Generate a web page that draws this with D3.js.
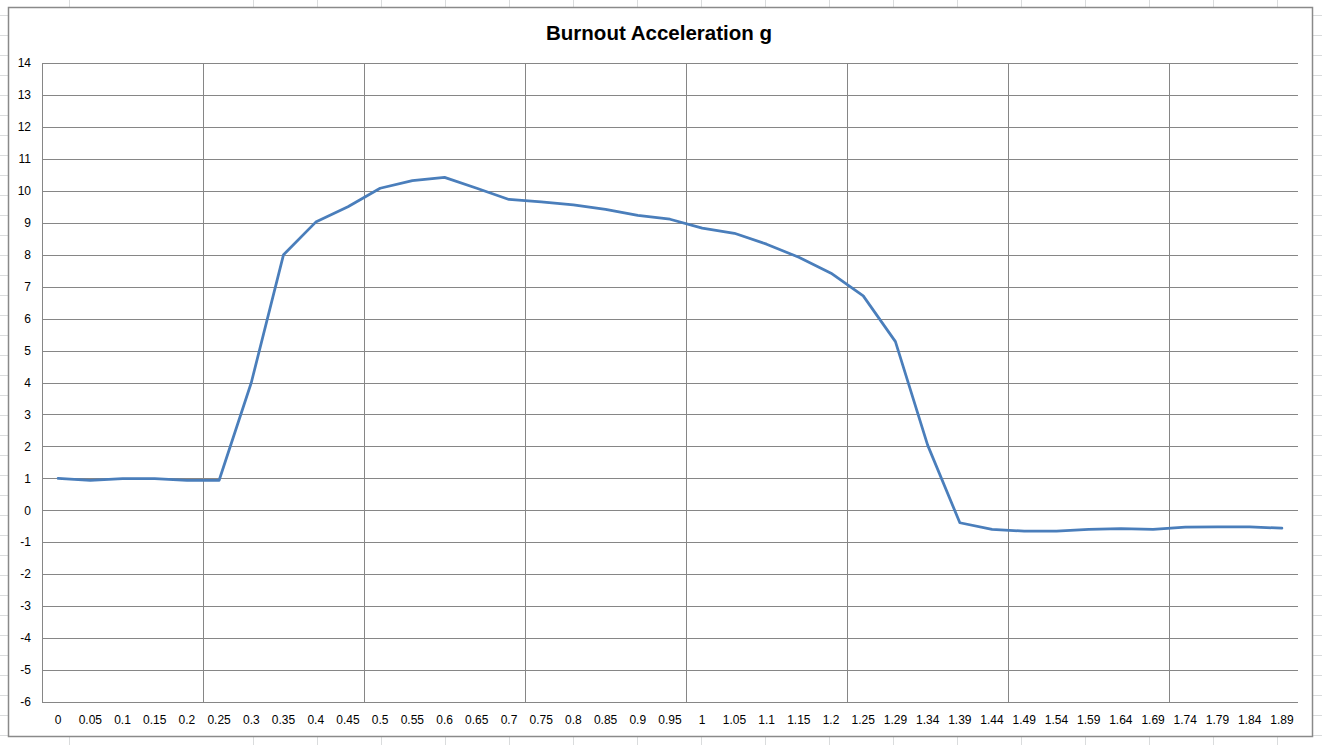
<!DOCTYPE html>
<html>
<head>
<meta charset="utf-8">
<script src="https://cdn.jsdelivr.net/npm/d3@7"></script>
<style>
  html, body { margin: 0; padding: 0; background: #fff; }
  svg { display: block; }
</style>
</head>
<body>
<svg id="chart" width="1322" height="745"></svg>
<script>
const title = "Burnout Acceleration g";
const categories = ["0","0.05","0.1","0.15","0.2","0.25","0.3","0.35","0.4","0.45","0.5","0.55","0.6","0.65","0.7","0.75","0.8","0.85","0.9","0.95","1","1.05","1.1","1.15","1.2","1.25","1.29","1.34","1.39","1.44","1.49","1.54","1.59","1.64","1.69","1.74","1.79","1.84","1.89"];
const accelG = [1.0,0.94,0.99,0.99,0.94,0.94,4.0,8.0,9.02,9.5,10.08,10.32,10.42,10.08,9.73,9.65,9.56,9.42,9.23,9.11,8.83,8.67,8.33,7.92,7.42,6.71,5.28,2.04,-0.39,-0.6,-0.65,-0.65,-0.6,-0.57,-0.6,-0.53,-0.52,-0.52,-0.56];
const yTicks = d3.range(-6, 15, 1);
const gridEvery = 5;

const W = 1322, H = 745;
const svg = d3.select("#chart");

// spreadsheet background grid
const sheet = svg.append("g");
const colLines = [69].concat(d3.range(253, W + 1, 64));
sheet.selectAll("line.c").data(colLines).join("line")
  .attr("x1", d => d + 0.5).attr("x2", d => d + 0.5)
  .attr("y1", 0).attr("y2", H)
  .attr("stroke", "#dadcdd").attr("stroke-width", 1);
sheet.selectAll("line.r").data(d3.range(15, H, 20)).join("line")
  .attr("x1", 0).attr("x2", W)
  .attr("y1", d => d + 0.5).attr("y2", d => d + 0.5)
  .attr("stroke", "#dadcdd").attr("stroke-width", 1);

// chart area box
svg.append("rect")
  .attr("x", 8.5).attr("y", 7.5).attr("width", 1304).attr("height", 729)
  .attr("fill", "#fff").attr("stroke", "#8a8a8a").attr("stroke-width", 1.5);

const plot = { left: 42, right: 1298, top: 63, bottom: 702 };

const x = d3.scaleBand().domain(categories).range([plot.left, plot.right]).padding(0);
const y = d3.scaleLinear().domain([-6, 14]).range([plot.bottom, plot.top]);

const grid = svg.append("g");
grid.selectAll("line.h").data(yTicks).join("line")
  .attr("x1", plot.left).attr("x2", plot.right)
  .attr("y1", d => Math.round(y(d)) + 0.5).attr("y2", d => Math.round(y(d)) + 0.5)
  .attr("stroke", "#868686").attr("stroke-width", 1);
const vIdx = d3.range(gridEvery, categories.length, gridEvery);
grid.selectAll("line.v").data(vIdx).join("line")
  .attr("x1", i => Math.round(x(categories[i])) + 0.5).attr("x2", i => Math.round(x(categories[i])) + 0.5)
  .attr("y1", plot.top).attr("y2", plot.bottom)
  .attr("stroke", "#868686").attr("stroke-width", 1);
grid.append("line")
  .attr("x1", plot.left + 0.5).attr("x2", plot.left + 0.5)
  .attr("y1", plot.top).attr("y2", plot.bottom)
  .attr("stroke", "#868686").attr("stroke-width", 1);

const font = "'Liberation Sans', Arial, sans-serif";
svg.append("g").selectAll("text").data(yTicks).join("text")
  .attr("x", 31).attr("y", d => y(d))
  .attr("dy", "0.35em").attr("text-anchor", "end")
  .attr("font-family", font).attr("font-size", 12).attr("fill", "#000")
  .text(d => d);

svg.append("g").selectAll("text").data(categories).join("text")
  .attr("x", d => x(d) + x.bandwidth() / 2).attr("y", 720)
  .attr("dy", "0.35em").attr("text-anchor", "middle")
  .attr("font-family", font).attr("font-size", 12).attr("fill", "#000")
  .text(d => d);

svg.append("text")
  .attr("x", 659).attr("y", 33).attr("dy", "0.35em")
  .attr("text-anchor", "middle")
  .attr("font-family", font).attr("font-weight", "bold")
  .attr("font-size", 20.5).attr("fill", "#000")
  .text(title);

const line = d3.line()
  .x((d, i) => x(categories[i]) + x.bandwidth() / 2)
  .y(d => y(d));
svg.append("path")
  .datum(accelG)
  .attr("d", line)
  .attr("fill", "none")
  .attr("stroke", "#4a7ebb")
  .attr("stroke-width", 2.75)
  .attr("stroke-linejoin", "round")
  .attr("stroke-linecap", "round");
</script>
</body>
</html>
